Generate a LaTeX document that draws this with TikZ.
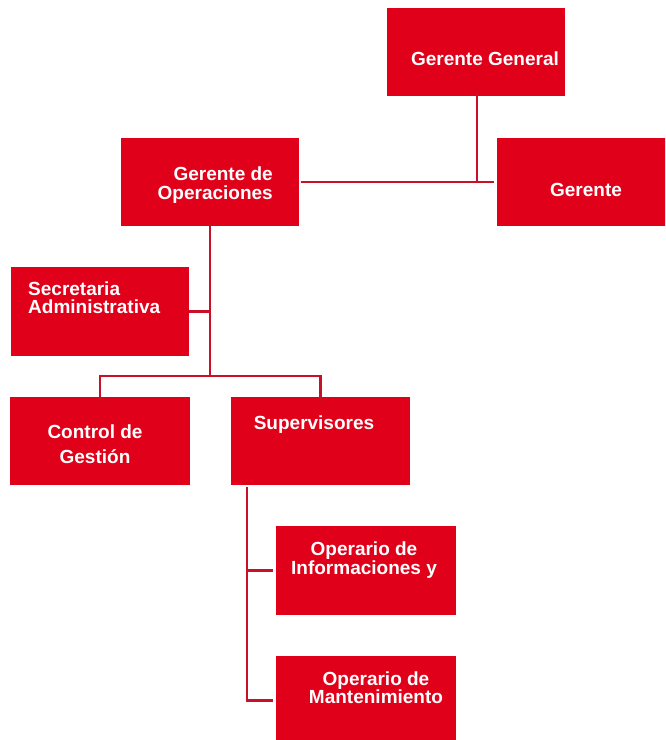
\documentclass[tikz,border=0pt]{standalone}
\usepackage{fontspec}
\setmainfont{Liberation Sans}
\definecolor{boxred}{RGB}{224,0,26}
\definecolor{linered}{RGB}{200,16,40}
\begin{document}
\begin{tikzpicture}[x=1pt,y=-1pt,
  box/.style={fill=boxred,draw=none,inner sep=0pt,minimum width=178pt,minimum height=88pt},
  txt/.style={text=white,inner sep=0pt,font=\bfseries\fontsize{19}{19}\selectfont},
  conn/.style={draw=linered,line width=2.8pt}]
\useasboundingbox (0,0) rectangle (665,740);
\clip (0,0) rectangle (665,740);
% boxes
\node[box] (gg) at (476,52) {};
\node[box] (gf) at (586,182) {};
\node[box] (go) at (210,182) {};
\node[box,minimum height=89pt] (sa) at (100,311.5) {};
\node[box,minimum width=180pt] (cg) at (100,441) {};
\node[box,minimum width=179pt] (sv) at (320.5,441) {};
\node[box,minimum width=180pt,minimum height=89pt] (oi) at (366,570.5) {};
\node[box,minimum width=180pt,minimum height=89pt] (om) at (366,700.5) {};
% texts
\node[txt,anchor=base] (tgg) at (485,65) {Gerente General};
\node[txt,anchor=base] (tgf) at (586,196) {Gerente};
\node[txt,anchor=base east,align=right] (tgo) at (273,199) {Gerente de\\Operaciones};
\node[txt,anchor=base west,align=left,font=\bfseries\fontsize{19}{18}\selectfont] (tsa) at (28,313) {Secretaria\\Administrativa};
\node[txt,anchor=base,align=center,font=\bfseries\fontsize{19}{25}\selectfont] (tcg) at (95,463) {Control de\\Gestión};
\node[txt,anchor=base] (tsv) at (314,429) {Supervisores};
\node[txt,anchor=base,align=center] (toi) at (364,574) {Operario de\\Informaciones y};
\node[txt,anchor=base,align=center,font=\bfseries\fontsize{19}{18}\selectfont] (tom) at (376,703) {Operario de\\Mantenimiento};
% junctions
\coordinate (j0) at (477,182);
\coordinate (j1) at (210,376);
\coordinate (j2) at (210,311.5);
\coordinate (s1) at (247,487);
% connectors
\draw[conn] ([xshift=1pt,yshift=3pt]gg.south) -- (j0);
\draw[conn] ([xshift=2pt]go.east) -- ([xshift=-3pt]gf.west);
\draw[conn] ([yshift=3pt]go.south) -- (j1);
\draw[conn] (sa.east) -- (j2);
\draw[conn] ([yshift=-4pt]cg.north) |- (j1) -| ([yshift=-4pt]sv.north);
\draw[conn] (s1) |- ([xshift=-3pt]oi.west);
\draw[conn] (s1) |- ([xshift=-3pt]om.west);
\end{tikzpicture}
\end{document}
